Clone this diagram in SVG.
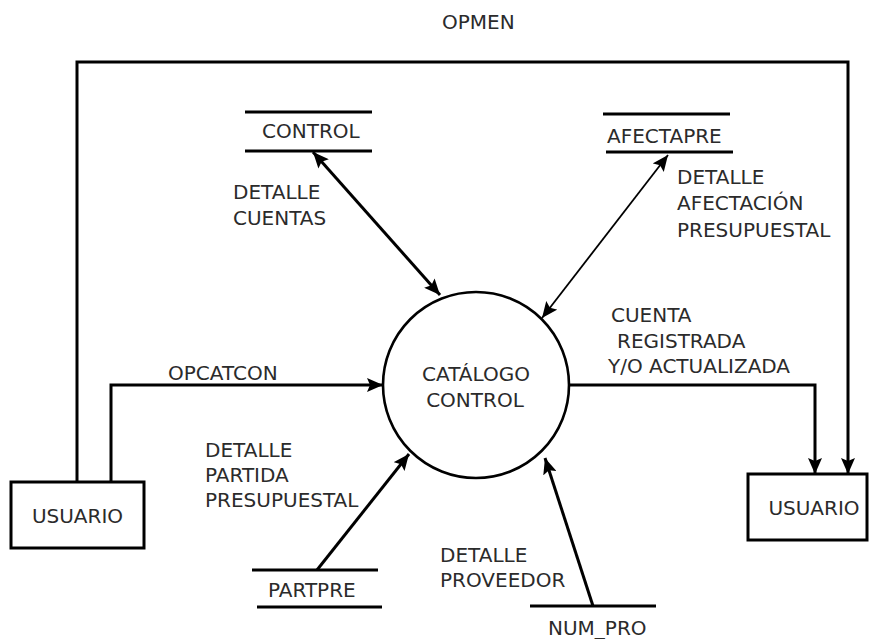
<svg xmlns="http://www.w3.org/2000/svg" width="870" height="639" viewBox="0 0 870 639">
  <style>
    text { font-family: "DejaVu Sans", Verdana, sans-serif; font-size: 20px; fill: #2b2b2b; }
    .flow { fill: none; stroke: #000; stroke-width: 3; }
    .thin { fill: none; stroke: #000; stroke-width: 1.8; }
    .store { stroke: #000; stroke-width: 3; }
    .box { fill: #fff; stroke: #000; stroke-width: 3; }
    .proc { fill: #fff; stroke: #000; stroke-width: 2.6; }
  </style>
  <defs>
    <marker id="arrow" viewBox="0 0 16 14" refX="16" refY="7" markerWidth="16" markerHeight="14" markerUnits="userSpaceOnUse" orient="auto-start-reverse">
      <path d="M0,0 L16,7 L0,14 L3,7 Z" fill="#000"/>
    </marker>
  </defs>
  <rect width="870" height="639" fill="#fff"/>

  <!-- data flows -->
  <g id="connectors">
    <!-- OPMEN: left user around the top to right user -->
    <polyline class="flow" points="77,482 77,62 848,62 848,474" marker-end="url(#arrow)"/>
    <!-- OPCATCON -->
    <polyline class="flow" points="111,482 111,385 383,385" marker-end="url(#arrow)"/>
    <!-- CUENTA REGISTRADA Y/O ACTUALIZADA -->
    <polyline class="flow" points="570,385 815,385 815,474" marker-end="url(#arrow)"/>
    <!-- DETALLE CUENTAS (two-way) -->
    <line class="flow" x1="313" y1="152" x2="440" y2="295" marker-start="url(#arrow)" marker-end="url(#arrow)"/>
    <!-- DETALLE AFECTACION PRESUPUESTAL (two-way) -->
    <line class="thin" x1="668" y1="155" x2="542" y2="318" marker-start="url(#arrow)" marker-end="url(#arrow)"/>
    <!-- DETALLE PARTIDA PRESUPUESTAL -->
    <line class="flow" x1="317" y1="570" x2="409" y2="454" marker-end="url(#arrow)"/>
    <!-- DETALLE PROVEEDOR -->
    <line class="flow" x1="593" y1="606" x2="545" y2="458" marker-end="url(#arrow)"/>

    <text x="442" y="29" font-size="19">OPMEN</text>
    <text x="168" y="380">OPCATCON</text>
    <text x="233" y="199">DETALLE</text>
    <text x="233" y="225">CUENTAS</text>
    <text x="677" y="184">DETALLE</text>
    <text x="677" y="210">AFECTACIÓN</text>
    <text x="677" y="237">PRESUPUESTAL</text>
    <text x="611" y="322">CUENTA</text>
    <text x="617" y="348">REGISTRADA</text>
    <text x="608" y="373">Y/O ACTUALIZADA</text>
    <text x="205" y="457">DETALLE</text>
    <text x="205" y="482">PARTIDA</text>
    <text x="205" y="507">PRESUPUESTAL</text>
    <text x="440" y="562">DETALLE</text>
    <text x="440" y="587">PROVEEDOR</text>
  </g>

  <!-- process -->
  <g id="catalogo-control">
    <circle class="proc" cx="476" cy="385" r="93"/>
    <text x="476" y="381" text-anchor="middle">CATÁLOGO</text>
    <text x="475" y="407" text-anchor="middle">CONTROL</text>
  </g>

  <!-- external entities -->
  <g id="usuario-origen">
    <rect class="box" x="11" y="482" width="133" height="66"/>
    <text x="77.5" y="523" text-anchor="middle">USUARIO</text>
  </g>
  <g id="usuario-destino">
    <rect class="box" x="748" y="474" width="119" height="66"/>
    <text x="814" y="515" text-anchor="middle">USUARIO</text>
  </g>

  <!-- data stores -->
  <g id="store-control">
    <line class="store" x1="245" y1="112" x2="372" y2="112"/>
    <line class="store" x1="245" y1="151" x2="372" y2="151"/>
    <text x="262" y="138">CONTROL</text>
  </g>
  <g id="store-afectapre">
    <line class="store" x1="603" y1="114" x2="730" y2="114"/>
    <line class="store" x1="606" y1="152" x2="733" y2="152"/>
    <text x="607" y="143">AFECTAPRE</text>
  </g>
  <g id="store-partpre">
    <line class="store" x1="252" y1="570" x2="378" y2="570"/>
    <line class="store" x1="257" y1="607" x2="382" y2="607"/>
    <text x="268" y="597">PARTPRE</text>
  </g>
  <g id="store-num-pro">
    <line class="store" x1="530" y1="606" x2="656" y2="606"/>
    <text x="548" y="635">NUM_PRO</text>
  </g>
</svg>
